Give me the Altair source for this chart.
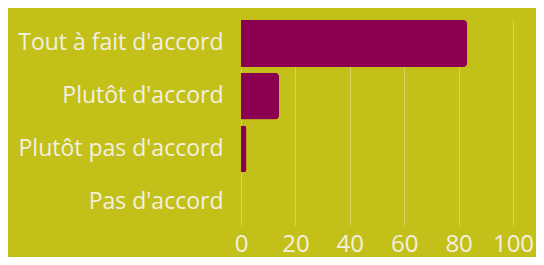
import altair as alt
import pandas as pd

categories = ["Tout à fait d'accord", "Plutôt d'accord", "Plutôt pas d'accord", "Pas d'accord"]
values = [83.2, 14.0, 2.0, 0.0]
x_ticks = [0, 20, 40, 60, 80, 100]

df = pd.DataFrame({"cat": categories, "val": values})

bg = "#c4c01a"
bar_color = "#8b0050"
text_color = "#f2f0e0"
font = "Open Sans"

chart = alt.Chart(df).mark_bar(
    color=bar_color, cornerRadiusEnd=4
).encode(
    x=alt.X("val:Q", scale=alt.Scale(domain=[0, 100], nice=False),
            axis=alt.Axis(values=x_ticks, title=None, grid=True, gridColor="#d6d35e",
                          gridWidth=1, domain=False, ticks=False, labelFontSize=24,
                          labelColor=text_color, labelFont=font, labelPadding=7,
                          labelFlush=False)),
    y=alt.Y("cat:N", sort=categories,
            scale=alt.Scale(paddingInner=0.11, paddingOuter=0),
            axis=alt.Axis(title=None, domain=False, ticks=False, labelFontSize=23,
                          labelColor=text_color, labelFont=font, labelPadding=18,
                          labelLimit=0)),
).properties(
    width=272, height=205,
    padding={"left": 233, "top": 12, "right": 23, "bottom": 32},
    autosize=alt.AutoSizeParams(type="none"),
    background=bg,
).configure_view(stroke=None)

chart.save("out.html", embed_options={"renderer": "svg", "actions": False})
